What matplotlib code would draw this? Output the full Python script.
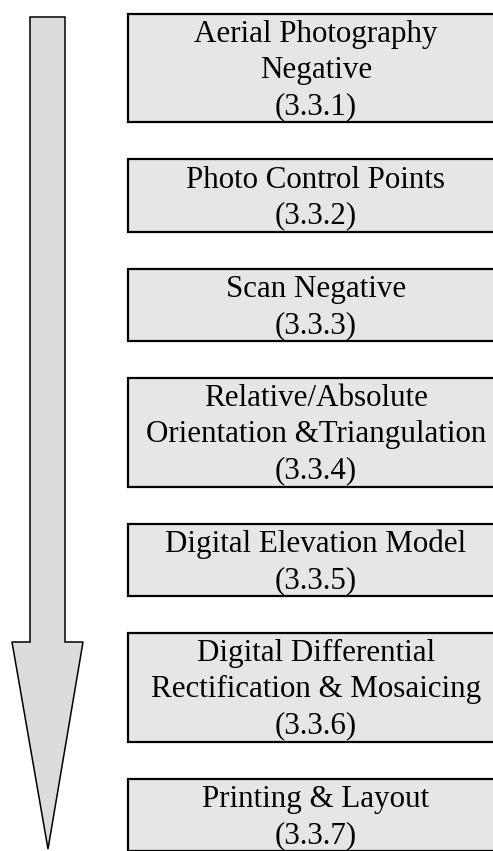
import matplotlib.pyplot as plt
from matplotlib.patches import Rectangle, Polygon

# flow steps (top to bottom)
step_lines = [
    ['Aerial Photography', 'Negative', '(3.3.1)'],
    ['Photo Control Points', '(3.3.2)'],
    ['Scan Negative', '(3.3.3)'],
    ['Relative/Absolute', 'Orientation &Triangulation', '(3.3.4)'],
    ['Digital Elevation Model', '(3.3.5)'],
    ['Digital Differential', 'Rectification & Mosaicing', '(3.3.6)'],
    ['Printing & Layout', '(3.3.7)'],
]

W, H = 493, 851
fig = plt.figure(figsize=(W / 100, H / 100), dpi=100)
ax = fig.add_axes([0, 0, 1, 1])
ax.set_xlim(0, W)
ax.set_ylim(H, 0)
ax.axis('off')

# big down arrow on the left
arrow = Polygon([(30, 17), (65, 17), (65, 642), (83, 642), (48, 849),
                 (12, 642), (30, 642)], closed=True,
                facecolor='#dcdcdc', edgecolor='black', linewidth=1.1)
ax.add_patch(arrow)

# boxes
box_left, box_right = 128, 505
line_h = 36.2
gap = 37
top = 13.5
for lines in step_lines:
    h = line_h * len(lines)
    ax.add_patch(Rectangle((box_left, top), box_right - box_left, h,
                           facecolor='#e6e6e6', edgecolor='black', linewidth=1.6))
    for i, s in enumerate(lines):
        ax.text(316, top + 28.5 + 36 * i, s, ha='center', va='baseline',
                fontsize=22.3, family='Liberation Serif', color='black')
    top += h + gap

fig.savefig('out.png', dpi=100)
